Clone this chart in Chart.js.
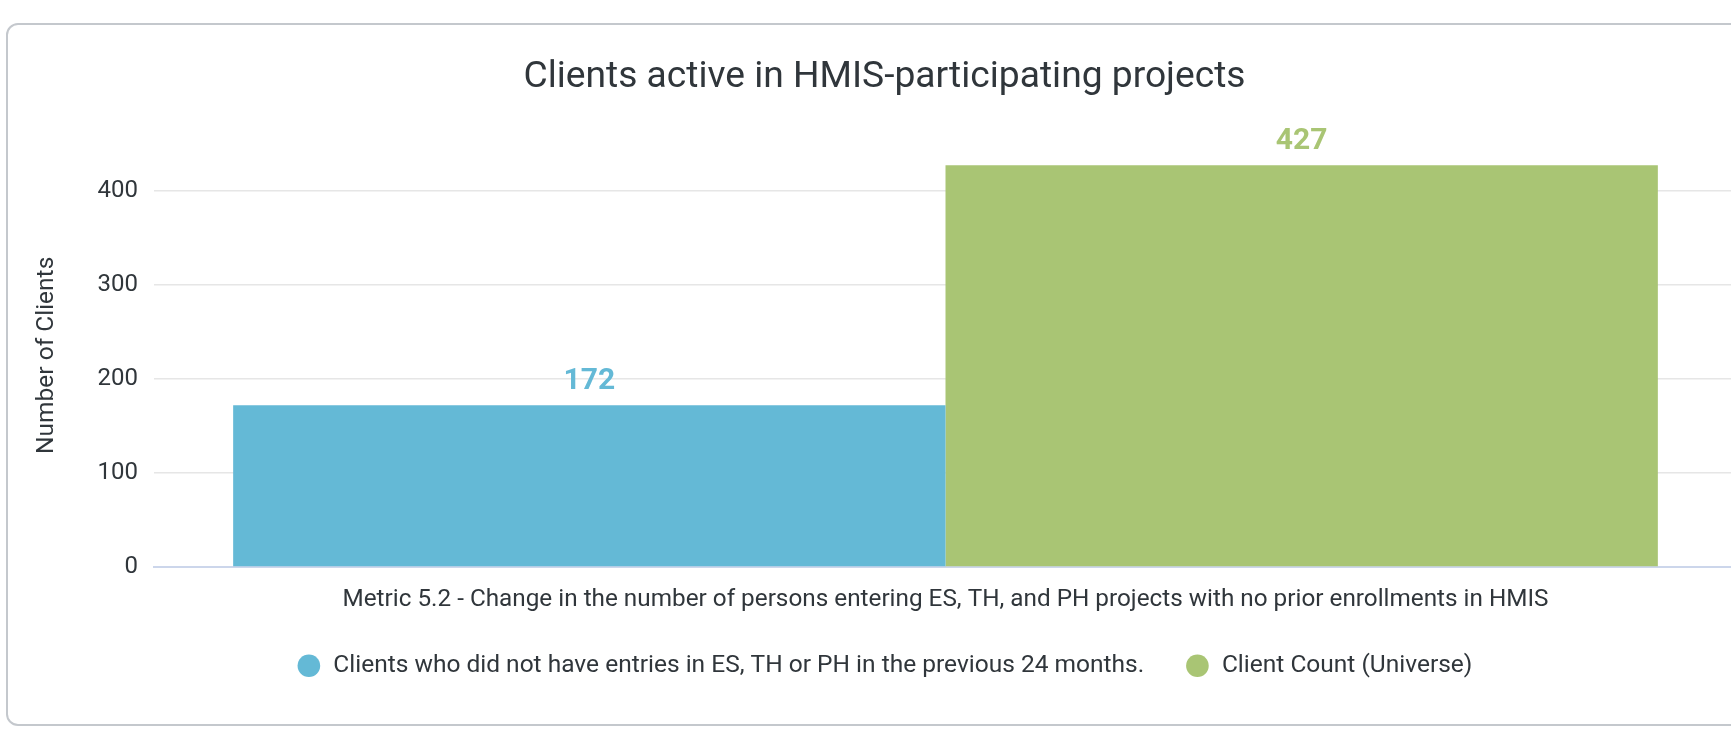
<!DOCTYPE html>
<html>
<head>
<meta charset="utf-8">
<script src="https://cdn.jsdelivr.net/npm/chart.js@4.4.1/dist/chart.umd.min.js"></script>
<style>
  html, body { margin: 0; padding: 0; background: #ffffff; overflow: hidden; width: 1731px; height: 730px; }
  #card { position: absolute; left: 6px; top: 23px; width: 1800px; height: 703px; border: 2px solid #c4c8cd; border-radius: 12px; box-sizing: border-box; }
  #chart { position: absolute; left: 0; top: 0; }
</style>
</head>
<body>
<div id="card"></div>
<canvas id="chart" width="1775" height="730"></canvas>
<script>
const chartTitle = 'Clients active in HMIS-participating projects';
const categories = ['Metric 5.2 - Change in the number of persons entering ES, TH, and PH projects with no prior enrollments in HMIS'];
const seriesNames = ['Clients who did not have entries in ES, TH or PH in the previous 24 months.', 'Client Count (Universe)'];
const noPriorEntries = [172];
const clientCount = [427];
const seriesColors = ['#64b9d6', '#a9c574'];
const yTicks = [0, 100, 200, 300, 400];
const yAxisTitle = 'Number of Clients';

const textColor = '#30363b';
const FONT = 'Roboto';

const valueLabels = {
  id: 'valueLabels',
  afterDatasetsDraw(chart) {
    const ctx = chart.ctx;
    ctx.save();
    ctx.font = 'bold 30px ' + FONT;
    ctx.textAlign = 'center';
    ctx.textBaseline = 'middle';
    chart.data.datasets.forEach((ds, i) => {
      const meta = chart.getDatasetMeta(i);
      meta.data.forEach((el, j) => {
        ctx.fillStyle = ds.backgroundColor;
        ctx.fillText(String(ds.data[j]), el.x, el.y - 24);
      });
    });
    ctx.restore();
  }
};

new Chart(document.getElementById('chart'), {
  type: 'bar',
  data: {
    labels: categories,
    datasets: [
      { label: seriesNames[0], data: noPriorEntries, backgroundColor: seriesColors[0], borderWidth: 0 },
      { label: seriesNames[1], data: clientCount, backgroundColor: seriesColors[1], borderWidth: 0 }
    ]
  },
  options: {
    responsive: false,
    animation: false,
    categoryPercentage: 0.9,
    barPercentage: 1.0,
    layout: { padding: { left: 32, right: 38, top: 0, bottom: 42 } },
    plugins: {
      title: {
        display: true,
        text: chartTitle,
        color: textColor,
        font: { family: FONT, size: 37.2, weight: 'normal' },
        padding: { top: 55.4, bottom: 43.6 }
      },
      legend: {
        position: 'bottom',
        labels: {
          usePointStyle: true,
          pointStyle: 'circle',
          boxWidth: 25,
          boxHeight: 16,
          padding: 41,
          color: textColor,
          font: { family: FONT, size: 24.5 }
        }
      },
      tooltip: { enabled: false }
    },
    scales: {
      x: {
        grid: { display: false, drawTicks: false },
        border: { display: true, color: '#ccd6eb', width: 2 },
        ticks: { color: textColor, font: { family: FONT, size: 24.3 }, padding: 18, maxRotation: 0, autoSkip: false },
        afterFit(scale) { scale.height = 45.5; }
      },
      y: {
        min: 0,
        max: 450,
        grid: { color: (c) => c.tick && c.tick.value === 0 ? 'rgba(0,0,0,0)' : '#e6e6e6', lineWidth: 1.5, drawTicks: false },
        border: { display: false },
        ticks: { color: textColor, font: { family: FONT, size: 24 }, padding: 16 },
        afterBuildTicks(scale) { scale.ticks = yTicks.map(v => ({ value: v })); },
        afterFit(scale) { scale.width = 122; },
        title: { display: true, text: yAxisTitle, color: textColor, font: { family: FONT, size: 24.5 }, padding: { top: 0, bottom: 4 } }
      }
    }
  },
  plugins: [valueLabels]
});
</script>
</body>
</html>
